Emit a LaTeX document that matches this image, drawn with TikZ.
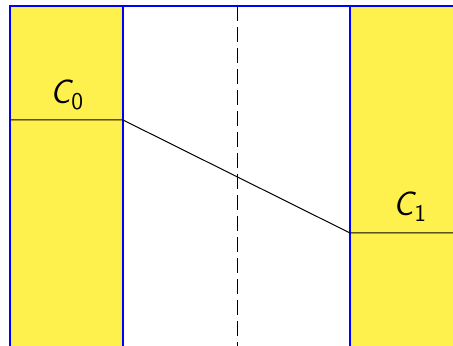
\documentclass[tikz,border=0pt]{standalone}
\usepackage{tikz}
\usetikzlibrary{positioning}
\definecolor{band}{RGB}{255,241,77}
\tikzset{
  bandbox/.style={fill=band, draw=blue, line width=0.7pt},
  frame/.style={draw=blue, line width=0.7pt},
  profile/.style={draw=black, line width=0.5pt},
  midline/.style={draw=black, line width=0.5pt, dash pattern=on 7.5pt off 3pt},
  clabel/.style={font=\fontsize{17}{19}\selectfont\sffamily\slshape, inner sep=0pt, anchor=base west}
}

\begin{document}
\begin{tikzpicture}[x=0.5pt, y=-0.5pt]
  \useasboundingbox (0,0) rectangle (453,346);
  \clip (0,0) rectangle (453,346);
  % yellow bands
  \draw[bandbox] (10,6) rectangle (123,360);
  \draw[bandbox] (350,6) rectangle (470,360);
  \draw[frame] (10,360) -- (10,6) -- (470,6);
  % centre line
  \coordinate (mtop) at (237,6);
  \coordinate (mbot) at (237,360);
  \draw[midline] (mtop) -- (mbot);
  % profile
  \coordinate (p0) at (10,120);
  \coordinate (p1) at (123,120);
  \coordinate (p2) at (350,233);
  \coordinate (p3) at (470,233);
  \draw[profile] (p0) -- (p1) -- (p2) -- (p3);
  \node[clabel] (c0) at (50,104) {C\kern0.3pt\raisebox{-3pt}{\fontsize{12}{14}\selectfont\upshape 0}};
  \node[clabel] (c1) at (393,216) {C\kern0.3pt\raisebox{-3pt}{\fontsize{12}{14}\selectfont\upshape 1}};
\end{tikzpicture}
\end{document}
